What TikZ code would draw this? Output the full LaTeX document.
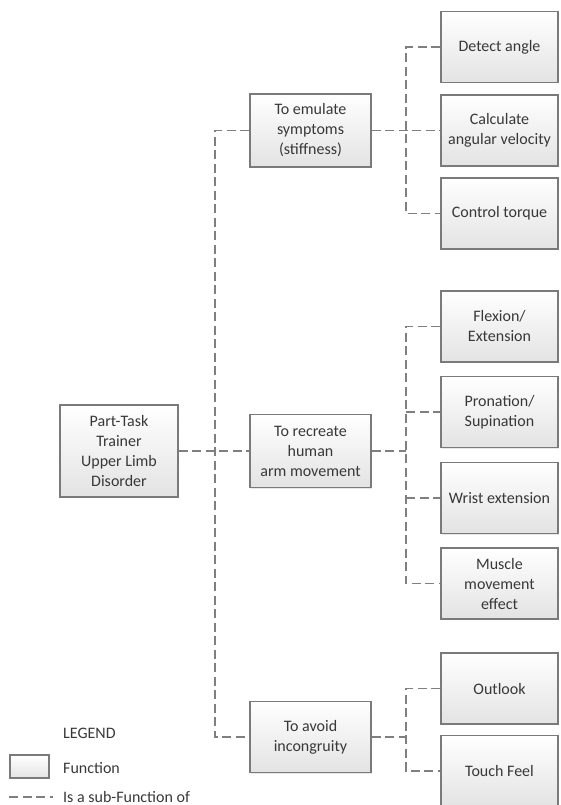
\documentclass[tikz,border=0pt]{standalone}
\usepackage{fontspec}
\setmainfont{Carlito}
\usepackage{tikz}
\usetikzlibrary{shadows}

\definecolor{boxline}{HTML}{7A7A7A}
\definecolor{linkgray}{HTML}{7F7F7F}
\definecolor{txtgray}{HTML}{383838}

\tikzset{
  func/.style = {draw = boxline, line width = 1.2pt, top color = white, bottom color = black!11, drop shadow = {shadow xshift = 1pt, shadow yshift = -1pt, fill = black!30, opacity = 0.3}, text = txtgray, align = center, inner sep = 0pt, font = \fontsize{16}{20}\selectfont},
  rootbox/.style = {func, minimum width = 118pt, minimum height = 92pt},
  midbox/.style = {func, minimum width = 121pt, minimum height = 73pt},
  leafbox/.style = {func, minimum width = 117pt, minimum height = 71pt},
  legtext/.style = {anchor = west, inner sep = 0pt, text = txtgray, font = \fontsize{16}{20}\selectfont},
  link/.style = {draw = linkgray, line width = 1.5pt, dash pattern = on 9pt off 4.5pt}
}

\begin{document}
\begin{tikzpicture}[x = 1pt, y = -1pt]

\useasboundingbox (0,0) rectangle (561,805);

\coordinate (busA) at (215,0);
\coordinate (busB) at (406,0);

\node (root) at (119,451) [rootbox] {Part-Task\\Trainer\\Upper Limb\\Disorder};

\node (emulate) at (310.5,130.5) [midbox] {To emulate\\symptoms\\(stiffness)};
\node (recreate) at (310.5,451) [midbox] {To recreate\\human\\arm movement};
\node (avoid) at (310.5,737) [midbox, minimum height = 71pt] {To avoid\\incongruity};

\node (detect) at (499.5,47) [leafbox] {Detect angle};
\node (calc) at (499.5,130.5) [leafbox] {Calculate\\angular velocity};
\node (torque) at (499.5,213.5) [leafbox] {Control torque};
\node (flex) at (499.5,326.5) [leafbox] {Flexion/\\Extension};
\node (pron) at (499.5,412) [leafbox] {Pronation/\\Supination};
\node (wrist) at (499.5,498) [leafbox] {Wrist extension};
\node (muscle) at (499.5,583.5) [leafbox] {Muscle\\movement\\effect};
\node (outlook) at (499.5,688.5) [leafbox] {Outlook};
\node (touch) at (499.5,771) [leafbox] {Touch Feel};

\draw[link] (root) -- (recreate);
\draw[link] (emulate.west) -- (emulate.west -| busA) -- (avoid.west -| busA) -- (avoid.west);

\draw[link] (emulate) -- (calc);
\draw[link] (detect.west) -- (detect.west -| busB) -- (torque.west -| busB) -- (torque.west);

\draw[link] (recreate.east) -- (recreate.east -| busB);
\draw[link] (flex.west) -- (flex.west -| busB) -- (muscle.west -| busB) -- (muscle.west);
\draw[link] (pron.west -| busB) -- (pron.west);
\draw[link] (wrist.west -| busB) -- (wrist.west);

\draw[link] (avoid.east) -- (avoid.east -| busB);
\draw[link] (outlook.west) -- (outlook.west -| busB) -- (touch.west -| busB) -- (touch.west);

\node (legtitle) at (63,733) [legtext] {LEGEND};
\node (legbox) at (29.5,766.5) [func, minimum width = 39pt, minimum height = 23pt] {};
\node (legfunc) at (63,768) [legtext] {Function};
\coordinate (legA) at (9,797);
\coordinate (legB) at (53,797);
\draw[link] (legA) -- (legB);
\node (legsub) at (63,797) [legtext] {Is a sub-Function of};

\end{tikzpicture}
\end{document}
